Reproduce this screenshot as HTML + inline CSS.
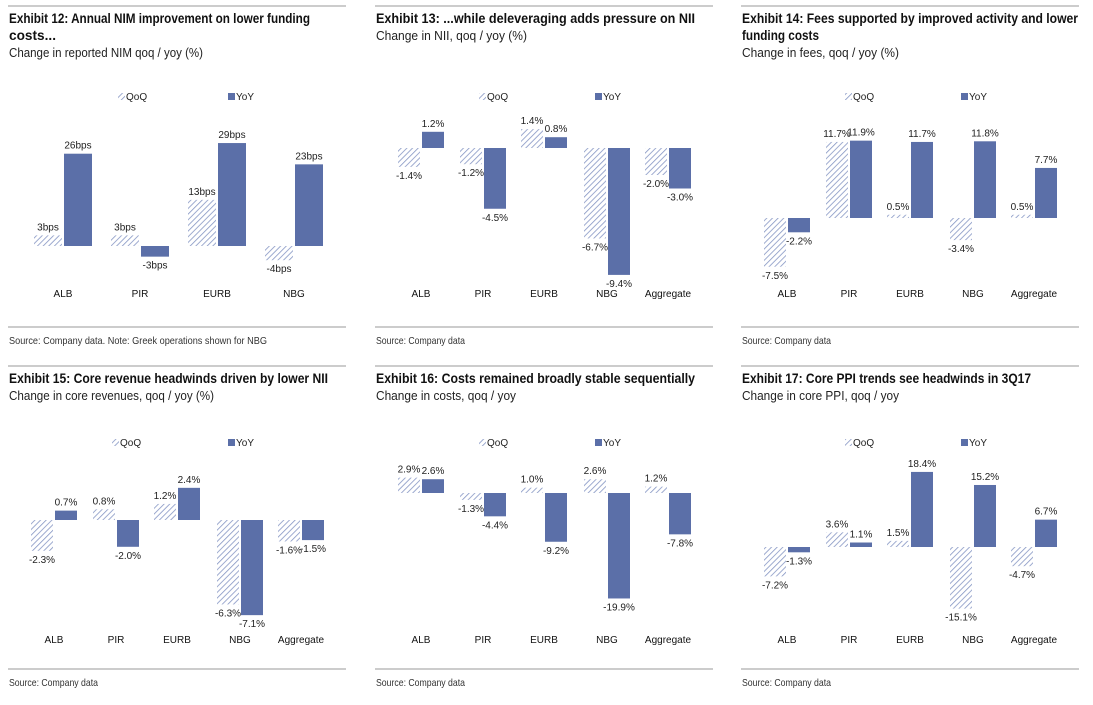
<!DOCTYPE html>
<html><head><meta charset="utf-8">
<style>
html,body{margin:0;padding:0;background:#fff;}
svg{display:block;font-family:"Liberation Sans",Arial,sans-serif;}
.t{font-family:"Liberation Sans",sans-serif;font-weight:bold;font-size:13.5px;fill:#111;}
.s{font-family:"Liberation Sans",sans-serif;font-size:12.5px;fill:#222;}
.src{font-family:"Liberation Sans",sans-serif;font-size:10.5px;fill:#333;}
.v{font-size:10px;fill:#222;}
.c{font-size:10px;fill:#111;}
</style></head>
<body>
<svg id="chart" width="1093" height="705" viewBox="0 0 1093 705">
<defs>
<pattern id="hatch" patternUnits="userSpaceOnUse" width="4" height="4" patternTransform="rotate(45)">
<rect width="4" height="4" fill="#fff"/>
<line x1="0" y1="0" x2="0" y2="4" stroke="#8595c4" stroke-width="1.6"/>
</pattern>
</defs>
</svg>
<script>
const categories5 = ["ALB","PIR","EURB","NBG","Aggregate"];
const categories4 = ["ALB","PIR","EURB","NBG"];
const nimQoQ = [3,3,13,-4];
const nimYoY = [26,-3,29,23];
const niiQoQ = [-1.4,-1.2,1.4,-6.7,-2.0];
const niiYoY = [1.2,-4.5,0.8,-9.4,-3.0];
const feesQoQ = [-7.5,11.7,0.5,-3.4,0.5];
const feesYoY = [-2.2,11.9,11.7,11.8,7.7];
const coreRevQoQ = [-2.3,0.8,1.2,-6.3,-1.6];
const coreRevYoY = [0.7,-2.0,2.4,-7.1,-1.5];
const costsQoQ = [2.9,-1.3,1.0,2.6,1.2];
const costsYoY = [2.6,-4.4,-9.2,-19.9,-7.8];
const ppiQoQ = [-7.2,3.6,1.5,-15.1,-4.7];
const ppiYoY = [-1.3,1.1,18.4,15.2,6.7];

const panels = [
 {name:"exhibit-12",x:8,top:6,title:["Exhibit 12: Annual NIM improvement on lower funding","costs..."],sub:"Change in reported NIM qoq / yoy (%)",cats:categories4,q:nimQoQ,y:nimYoY,zero:246,scale:3.55,centers:[55,132,209,286],bw:28,fmt:v=>v+"bps",legY:97,legQ:110,legY2:220,catY:297,srcLine:327,src:"Source: Company data. Note: Greek operations shown for NBG"},
 {name:"exhibit-13",x:375,top:6,title:["Exhibit 13: ...while deleveraging adds pressure on NII"],sub:"Change in NII, qoq / yoy (%)",cats:categories5,q:niiQoQ,y:niiYoY,zero:148,scale:13.5,centers:[46,108,169,232,293],bw:22,fmt:v=>v.toFixed(1)+"%",legY:97,legQ:104,legY2:220,catY:297,srcLine:327,src:"Source: Company data"},
 {name:"exhibit-14",x:741,top:6,title:["Exhibit 14: Fees supported by improved activity and lower","funding costs"],sub:"Change in fees, qoq / yoy (%)",cats:categories5,q:feesQoQ,y:feesYoY,zero:218,scale:6.5,centers:[46,108,169,232,293],bw:22,fmt:v=>v.toFixed(1)+"%",legY:97,legQ:104,legY2:220,catY:297,srcLine:327,src:"Source: Company data"},
 {name:"exhibit-15",x:8,top:366,title:["Exhibit 15: Core revenue headwinds driven by lower NII"],sub:"Change in core revenues, qoq / yoy (%)",cats:categories5,q:coreRevQoQ,y:coreRevYoY,zero:520,scale:13.4,centers:[46,108,169,232,293],bw:22,fmt:v=>v.toFixed(1)+"%",legY:443,legQ:104,legY2:220,catY:643,srcLine:669,src:"Source: Company data"},
 {name:"exhibit-16",x:375,top:366,title:["Exhibit 16: Costs remained broadly stable sequentially"],sub:"Change in costs, qoq / yoy",cats:categories5,q:costsQoQ,y:costsYoY,zero:493,scale:5.3,centers:[46,108,169,232,293],bw:22,fmt:v=>v.toFixed(1)+"%",legY:443,legQ:104,legY2:220,catY:643,srcLine:669,src:"Source: Company data"},
 {name:"exhibit-17",x:741,top:366,title:["Exhibit 17: Core PPI trends see headwinds in 3Q17"],sub:"Change in core PPI, qoq / yoy",cats:categories5,q:ppiQoQ,y:ppiYoY,zero:547,scale:4.08,centers:[46,108,169,232,293],bw:22,fmt:v=>v.toFixed(1)+"%",legY:443,legQ:104,legY2:220,catY:643,srcLine:669,src:"Source: Company data"}
];
const NS="http://www.w3.org/2000/svg";
const svg=document.getElementById("chart");
function mk(tag,attrs,parent,text){const e=document.createElementNS(NS,tag);for(const k in attrs)e.setAttribute(k,attrs[k]);if(text!==undefined)e.textContent=text;parent.appendChild(e);return e;}

panels.forEach(p=>{
 const g=mk("g",{},svg);
 
 
 const W=338;
 const l1=mk("line",{x1:p.x,x2:p.x+W,y1:p.top,y2:p.top,stroke:"#999","stroke-width":1},g);
 
 
 p.title.forEach((t,i)=>{
  const e=mk("text",{x:p.x+1,y:p.top+17+i*17,class:"t",textLength:(t.length*5.9).toFixed(0),lengthAdjust:"spacingAndGlyphs"},g,t);
  
  
 });
 const st=mk("text",{x:p.x+1,y:p.top+17+p.title.length*17,class:"s",textLength:(p.sub.length*5.4).toFixed(0),lengthAdjust:"spacingAndGlyphs"},g,p.sub);
 
 
 const lq=mk("rect",{x:p.x+p.legQ,y:p.legY-4,width:7,height:7,fill:"url(#hatch)"},g);
 
 
 const lqt=mk("text",{x:p.x+p.legQ+8,y:p.legY+3,class:"v"},g,"QoQ");
 
 
 const ly=mk("rect",{x:p.x+p.legY2,y:p.legY-4,width:7,height:7,fill:"#5b6fa8"},g);
 
 
 const lyt=mk("text",{x:p.x+p.legY2+8,y:p.legY+3,class:"v"},g,"YoY");
 
 
 const yPos=v=>p.zero-v*p.scale;
 p.cats.forEach((c,i)=>{
  const cx=p.x+p.centers[i];
  [[p.q[i],cx-1-p.bw,"url(#hatch)","qoq"],[p.y[i],cx+1,"#5b6fa8","yoy"]].forEach(([v,bx,fill,kind])=>{
   const y0=Math.min(yPos(v),p.zero), h=Math.abs(yPos(v)-p.zero);
   const r=mk("rect",{x:bx,y:y0,width:p.bw,height:Math.max(h,0.5),fill:fill},g);
   
   
   const ty=v>=0?yPos(v)-5:yPos(v)+12;
   const t=mk("text",{x:bx+p.bw/2,y:ty,"text-anchor":"middle",class:"v"},g,p.fmt(v));
   
   
  });
  const ct=mk("text",{x:cx,y:p.catY,"text-anchor":"middle",class:"c"},g,c);
  
  
 });
 const l2=mk("line",{x1:p.x,x2:p.x+W,y1:p.srcLine,y2:p.srcLine,stroke:"#999","stroke-width":1},g);
 
 
 const s=mk("text",{x:p.x+1,y:p.srcLine+17,class:"src",textLength:(p.src.length*4.45).toFixed(0),lengthAdjust:"spacingAndGlyphs"},g,p.src);
 
 
});
</script>
</body></html>
